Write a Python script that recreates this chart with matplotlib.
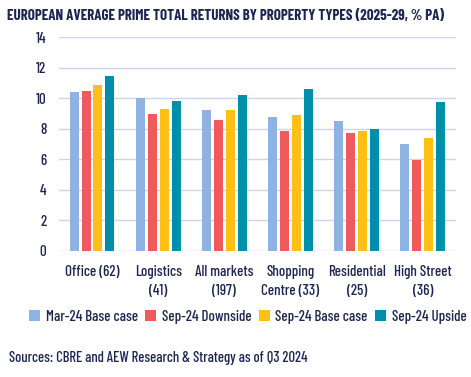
import numpy as np
import matplotlib.pyplot as plt

# Data
categories = ["Office (62)", "Logistics\n(41)", "All markets\n(197)",
              "Shopping\nCentre (33)", "Residential\n(25)", "High Street\n(36)"]
series_names = ["Mar-24 Base case", "Sep-24 Downside", "Sep-24 Base case", "Sep-24 Upside"]
mar24_base = [10.4, 10.0, 9.2, 8.8, 8.5, 7.0]
sep24_down = [10.5, 9.0, 8.6, 7.85, 7.7, 5.95]
sep24_base = [10.9, 9.3, 9.25, 8.9, 7.85, 7.4]
sep24_up = [11.45, 9.85, 10.2, 10.6, 8.0, 9.75]

colors = ["#8db3e2", "#f15a5d", "#fec014", "#008fa8"]
navy = "#1c2650"

plt.rcParams['font.family'] = ['Barlow Condensed', 'DejaVu Sans']
plt.rcParams['font.weight'] = 500

fig = plt.figure(figsize=(4.71, 3.77), dpi=100)
ax = fig.add_axes([0.125, 0.335, 0.843, 0.566])

x = np.arange(len(categories))
width = 0.136
step = 0.18
values = [mar24_base, sep24_down, sep24_base, sep24_up]
for i, (vals, name) in enumerate(zip(values, series_names)):
    ax.bar(x + (i - 1.5) * step, vals, width, color=colors[i], label=name, zorder=3)

ax.set_ylim(0, 14)
ax.set_yticks(range(0, 15, 2))
ax.set_xlim(-0.5, len(categories) - 0.5)
ax.set_xticks(x)
ax.set_xticklabels(categories, fontsize=10.8, color=navy, linespacing=1.45)
ax.tick_params(axis='y', labelsize=10.8, colors=navy, length=0, pad=9)
ax.tick_params(axis='x', length=0, pad=10)
ax.grid(axis='y', color="#cfd3ec", linewidth=1, zorder=0)
for s in ax.spines.values():
    s.set_visible(False)

fig.text(0.015, 0.958, "EUROPEAN AVERAGE PRIME TOTAL RETURNS BY PROPERTY TYPES (2025-29, % PA)",
         fontsize=10.8, fontweight='bold', color=navy, va='center')

leg = fig.legend(loc='center left', bbox_to_anchor=(29 / 471, 0.16), ncol=4, frameon=False,
                 fontsize=10.8, handlelength=0.75, handleheight=0.75, handletextpad=0.35,
                 columnspacing=0.5, borderpad=0, borderaxespad=0)
for t in leg.get_texts():
    t.set_color(navy)

fig.text(0.02, 0.05, "Sources: CBRE and AEW Research & Strategy as of Q3 2024",
         fontsize=10.5, color=navy, va='center')

fig.savefig("out.png", dpi=100)
